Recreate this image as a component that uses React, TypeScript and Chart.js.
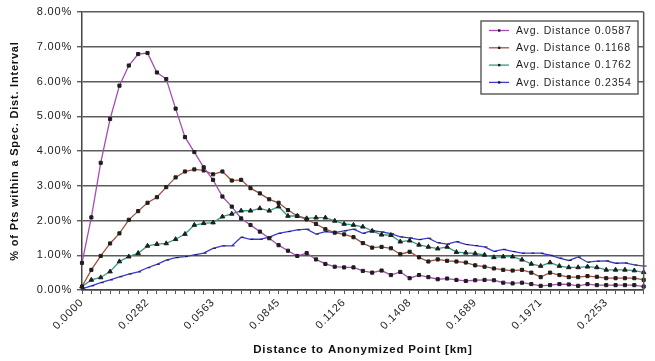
import { useEffect, useRef } from 'react';
import { Chart, registerables } from 'chart.js';

Chart.register(...registerables);

// distance (km) covered by one category step on the x axis
const DIST_STEP = 0.004023;
const POINT_COUNT = 61;
const CATEGORIES: string[] = Array.from({ length: POINT_COUNT }, (_, i) => (i * DIST_STEP).toFixed(4));
const X_TICK_LABELS = ['0.0000', '0.0282', '0.0563', '0.0845', '0.1126', '0.1408', '0.1689', '0.1971', '0.2253'];
const X_TICK_EVERY = 7;

const SERIES_NAMES = ['Avg. Distance 0.0587', 'Avg. Distance 0.1168', 'Avg. Distance 0.1762', 'Avg. Distance 0.2354'];

// % of points within a specific distance interval
const AVG_0587 = [
  0.78, 2.09, 3.66, 4.92, 5.88, 6.46, 6.79, 6.82, 6.26, 6.07,
  5.22, 4.40, 3.97, 3.53, 3.17, 2.69, 2.40, 2.06, 1.87, 1.68,
  1.49, 1.29, 1.13, 0.98, 1.06, 0.88, 0.75, 0.67, 0.65, 0.65,
  0.55, 0.50, 0.56, 0.43, 0.52, 0.34, 0.43, 0.37, 0.31, 0.33,
  0.29, 0.26, 0.28, 0.29, 0.28, 0.21, 0.19, 0.21, 0.17, 0.12,
  0.14, 0.17, 0.16, 0.12, 0.17, 0.14, 0.14, 0.14, 0.14, 0.14, 0.10,
];
const AVG_1168 = [
  0.10, 0.58, 0.98, 1.34, 1.63, 2.02, 2.27, 2.51, 2.67, 2.96,
  3.24, 3.41, 3.47, 3.44, 3.33, 3.41, 3.15, 3.17, 2.93, 2.78,
  2.61, 2.51, 2.30, 2.13, 2.03, 1.90, 1.75, 1.65, 1.60, 1.52,
  1.35, 1.22, 1.24, 1.20, 1.03, 1.10, 0.94, 0.82, 0.88, 0.84,
  0.82, 0.79, 0.71, 0.67, 0.62, 0.58, 0.56, 0.58, 0.50, 0.37,
  0.50, 0.43, 0.37, 0.37, 0.40, 0.38, 0.34, 0.34, 0.34, 0.34, 0.29,
];
const AVG_1762 = [
  0.10, 0.29, 0.36, 0.53, 0.82, 0.96, 1.06, 1.27, 1.32, 1.34,
  1.46, 1.61, 1.87, 1.92, 1.94, 2.11, 2.19, 2.28, 2.28, 2.35,
  2.28, 2.40, 2.13, 2.13, 2.06, 2.08, 2.08, 1.99, 1.90, 1.87,
  1.82, 1.70, 1.59, 1.58, 1.39, 1.42, 1.30, 1.24, 1.19, 1.24,
  1.09, 1.07, 1.05, 1.01, 0.94, 0.96, 0.96, 0.87, 0.75, 0.69,
  0.79, 0.69, 0.65, 0.65, 0.67, 0.65, 0.58, 0.58, 0.58, 0.56, 0.51,
];
const AVG_2354 = [
  0.03, 0.12, 0.21, 0.29, 0.38, 0.46, 0.52, 0.64, 0.74, 0.86,
  0.93, 0.96, 1.01, 1.06, 1.20, 1.27, 1.27, 1.52, 1.46, 1.46,
  1.52, 1.63, 1.68, 1.73, 1.75, 1.61, 1.68, 1.65, 1.70, 1.75,
  1.63, 1.71, 1.67, 1.62, 1.53, 1.50, 1.45, 1.49, 1.36, 1.32,
  1.39, 1.31, 1.28, 1.24, 1.11, 1.17, 1.11, 1.06, 1.06, 1.06,
  1.00, 0.92, 0.85, 0.95, 0.80, 0.83, 0.84, 0.77, 0.78, 0.72, 0.69,
];

const LINE_COLORS = ['#a64cb6', '#a4503f', '#2f9e86', '#3a3ad0'];
const POINT_STYLES = ['rect', 'rect', 'triangle', 'dash'];
const POINT_RADII = [2.2, 2.2, 2.6, 3];
const MARKER_COLOR = '#1e1e1e';

const FONT = '"Liberation Sans", Arial, sans-serif';
const SPACING = '0.8px';

const framePlugin = {
  id: 'frameAndLegend',
  beforeDraw(chart: any) {
    chart.ctx.letterSpacing = SPACING;
  },
  afterDraw(chart: any) {
    const ctx = chart.ctx;
    const a = chart.chartArea;
    ctx.save();
    ctx.strokeStyle = '#555';
    ctx.lineWidth = 1.5;
    ctx.beginPath();
    ctx.moveTo(a.right, a.top);
    ctx.lineTo(a.right, a.bottom);
    ctx.stroke();

    // legend box
    const bx = 481, by = 21, bw = 157, bh = 73;
    ctx.fillStyle = '#fff';
    ctx.fillRect(bx, by, bw, bh);
    ctx.strokeStyle = '#555';
    ctx.lineWidth = 1.4;
    ctx.strokeRect(bx, by, bw, bh);
    ctx.font = `10.5px ${FONT}`;
    ctx.letterSpacing = SPACING;
    ctx.textBaseline = 'middle';
    ctx.textAlign = 'left';
    chart.data.datasets.forEach((ds: any, k: number) => {
      const y = by + 9.5 + k * 17.3;
      ctx.strokeStyle = ds.borderColor;
      ctx.lineWidth = 1.3;
      ctx.beginPath();
      ctx.moveTo(bx + 8, y);
      ctx.lineTo(bx + 28, y);
      ctx.stroke();
      ctx.fillStyle = MARKER_COLOR;
      ctx.fillRect(bx + 17, y - 1.2, 2.4, 2.4);
      ctx.fillStyle = '#1e1e1e';
      ctx.fillText(ds.label, bx + 35, y + 0.5);
    });
    ctx.restore();
  },
};

export default function App() {
  const ref = useRef<HTMLCanvasElement | null>(null);

  useEffect(() => {
    if (!ref.current) return;
    const series = [AVG_0587, AVG_1168, AVG_1762, AVG_2354];
    const chart = new Chart(ref.current, {
      type: 'line',
      data: {
        labels: CATEGORIES,
        datasets: series.map((d, k) => ({
          label: SERIES_NAMES[k],
          data: d,
          borderColor: LINE_COLORS[k],
          borderWidth: 1.3,
          tension: 0,
          pointStyle: POINT_STYLES[k] as any,
          pointRadius: POINT_RADII[k],
          pointBackgroundColor: MARKER_COLOR,
          pointBorderColor: MARKER_COLOR,
          pointBorderWidth: 1,
          fill: false,
        })),
      },
      options: {
        responsive: false,
        animation: false,
        events: [],
        layout: { padding: { top: 12, right: 8, left: 0, bottom: 0 } },
        plugins: {
          legend: { display: false },
          tooltip: { enabled: false },
        },
        scales: {
          x: {
            type: 'category',
            offset: false,
            grid: {
              display: true,
              drawOnChartArea: false,
              drawTicks: true,
              tickLength: 4,
              color: '#555',
              lineWidth: 1,
            },
            border: { display: true, color: '#444', width: 1.5 },
            ticks: {
              autoSkip: false,
              maxRotation: 45,
              minRotation: 45,
              padding: 2,
              color: '#222',
              font: { family: FONT, size: 11 },
              callback: (_v: any, i: number) =>
                i % X_TICK_EVERY === 0 ? X_TICK_LABELS[i / X_TICK_EVERY] ?? '' : '',
            },
            title: {
              display: true,
              text: 'Distance to Anonymized Point [km]',
              color: '#111',
              font: { family: FONT, size: 11.5, weight: 'bold' },
              padding: { top: 4, bottom: 4 },
            },
            afterFit: (s: any) => {
              s.height = 71;
            },
          },
          y: {
            min: 0,
            max: 8,
            grid: {
              color: '#5c5c5c',
              lineWidth: 1.4,
              tickLength: 5,
              drawTicks: true,
            },
            border: { display: true, color: '#444', width: 1.5 },
            ticks: {
              stepSize: 1,
              padding: 5,
              color: '#222',
              font: { family: FONT, size: 11 },
              callback: (v: any) => Number(v).toFixed(2) + '%',
            },
            title: {
              display: true,
              text: '% of Pts within a Spec. Dist. Interval',
              color: '#111',
              font: { family: FONT, size: 11, weight: 'bold' },
              padding: { top: 8, bottom: 0 },
            },
            afterFit: (s: any) => {
              s.width = 82;
            },
          },
        },
      },
      plugins: [framePlugin],
    });
    return () => chart.destroy();
  }, []);

  return (
    <div style={{ position: 'fixed', left: 0, top: 0, width: 655, height: 361, background: '#fff' }}>
      <canvas ref={ref} width={655} height={361} />
    </div>
  );
}
